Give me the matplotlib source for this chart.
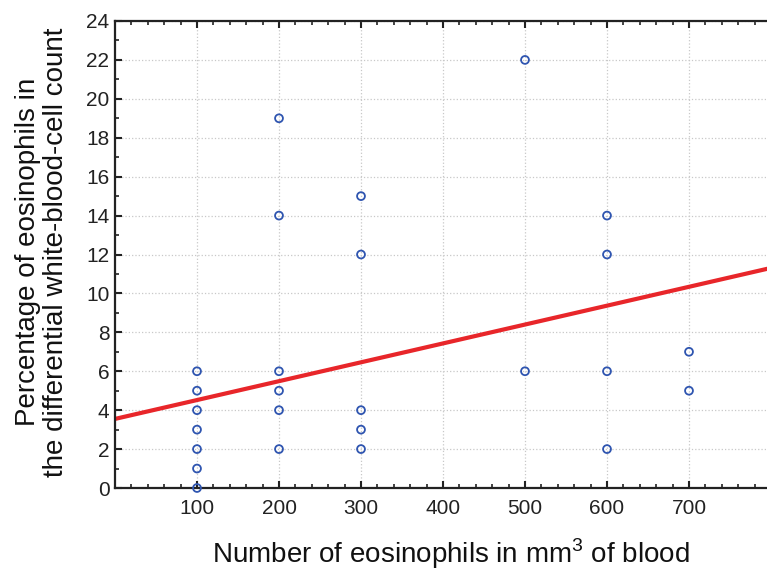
import matplotlib
matplotlib.use("Agg")
import matplotlib.pyplot as plt
from matplotlib.ticker import MultipleLocator

plt.rcParams['font.family'] = ['Liberation Sans', 'DejaVu Sans']
plt.rcParams['mathtext.fontset'] = 'custom'
plt.rcParams['mathtext.rm'] = 'Liberation Sans'

# Data
eos_count = [100, 100, 100, 100, 100, 100, 100,
             200, 200, 200, 200, 200, 200,
             300, 300, 300, 300, 300,
             500, 500,
             600, 600, 600, 600,
             700, 700]
eos_percent = [0, 1, 2, 3, 4, 5, 6,
               2, 4, 5, 6, 14, 19,
               2, 3, 4, 12, 15,
               6, 22,
               2, 6, 12, 14,
               5, 7]
fit_x = [0, 800]
fit_y = [3.55, 11.31]
x_ticks = [100, 200, 300, 400, 500, 600, 700]
y_ticks = list(range(0, 25, 2))

fig = plt.figure(figsize=(7.67, 5.72), dpi=100)
ax = fig.add_axes([115/767, 84/572, 656/767, 467/572])

ax.grid(True, color='#c8c8c8', linestyle=':', linewidth=0.9)
ax.set_axisbelow(True)
ax.plot(fit_x, fit_y, color='#e8262a', linewidth=3, zorder=2, solid_capstyle='butt')
ax.scatter(eos_count, eos_percent, s=32, facecolors='none', edgecolors='#2f55b0',
           linewidths=1.3, zorder=3, clip_on=False)

ax.set_xlim(0, 800)
ax.set_ylim(0, 24)
ax.set_xticks(x_ticks)
ax.set_yticks(y_ticks)
ax.xaxis.set_minor_locator(MultipleLocator(20))
ax.yaxis.set_minor_locator(MultipleLocator(1))
ax.tick_params(which='both', direction='in', top=True, right=False, labelsize=15,
               colors='#222222')
ax.tick_params(which='major', length=5, width=1.5)
ax.tick_params(which='minor', length=3, width=1.2)
ax.tick_params(axis='x', pad=8)
ax.tick_params(axis='y', pad=4)
for s in ['left', 'top', 'bottom']:
    ax.spines[s].set_linewidth(1.6)
    ax.spines[s].set_color('#222222')
ax.spines['right'].set_visible(False)

fig.text(451/767, 9/572, 'Number of eosinophils in mm$^{\\mathregular{3}}$ of blood',
         fontsize=20, ha='center', va='baseline', color='#111111')
fig.text(42/767, 1 - 252/572,
         'Percentage of eosinophils in\nthe differential white-blood-cell count',
         fontsize=20, ha='center', va='center', rotation=90, color='#111111',
         multialignment='center', linespacing=1.1)

fig.savefig('out.png', dpi=100)
